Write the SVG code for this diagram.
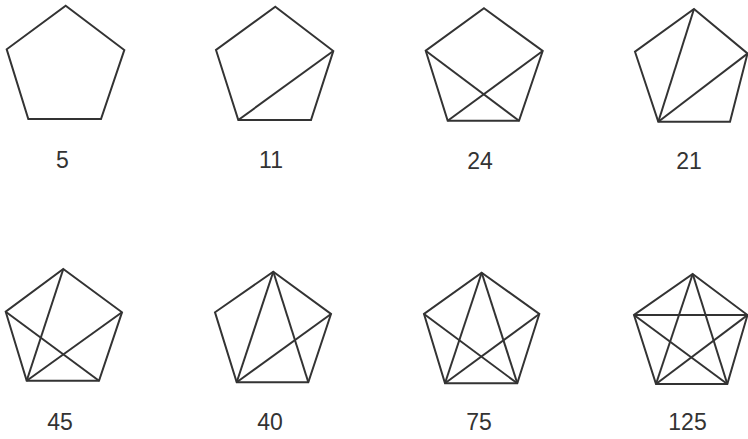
<svg xmlns="http://www.w3.org/2000/svg" width="748" height="439" viewBox="0 0 748 439">
<style>
.p{fill:none;stroke:#333;stroke-width:2;stroke-linejoin:miter}
.d{stroke:#333;stroke-width:2}
text{font-family:"Liberation Sans",Arial,sans-serif;font-size:23px;fill:#333;text-anchor:middle}
</style>
<rect width="748" height="439" fill="#fff"/>
<g id="g5">
<polygon class="p" points="65.7,5.7 124.3,50 101,119 28.3,119 6.7,49.3"/>
<text x="62.5" y="168">5</text>
</g>
<g id="g11">
<polygon class="p" points="275.3,6.7 333.3,51 311,120 238.3,120 216,50"/>
<g class="edges"><line class="d" x1="333.3" y1="51" x2="238.3" y2="120"/></g>
<text x="271" y="168">11</text>
</g>
<g id="g24">
<polygon class="p" points="484,8.3 542.7,51 519,120.7 447.7,120.7 425.7,50.7"/>
<g class="edges"><line class="d" x1="425.7" y1="50.7" x2="519" y2="120.7"/><line class="d" x1="542.7" y1="51" x2="447.7" y2="120.7"/></g>
<text x="480" y="169">24</text>
</g>
<g id="g21">
<polygon class="p" points="694,9 747.5,53.5 730,121.7 658.3,121.7 635,51.7"/>
<g class="edges"><line class="d" x1="658.3" y1="121.7" x2="694" y2="9"/><line class="d" x1="658.3" y1="121.7" x2="747.5" y2="53.5"/></g>
<text x="689" y="169">21</text>
</g>
<g id="g45">
<polygon class="p" points="63.3,269 122,312.3 99,380.7 26.7,380.7 5.7,311.7"/>
<g class="edges"><line class="d" x1="26.7" y1="380.7" x2="63.3" y2="269"/><line class="d" x1="5.7" y1="311.7" x2="99" y2="380.7"/><line class="d" x1="122" y1="312.3" x2="26.7" y2="380.7"/></g>
<text x="60" y="430">45</text>
</g>
<g id="g40">
<polygon class="p" points="273.3,271.7 331,314 308.3,382.3 236.7,382.3 215,312.3"/>
<g class="edges"><line class="d" x1="273.3" y1="271.7" x2="236.7" y2="382.3"/><line class="d" x1="273.3" y1="271.7" x2="308.3" y2="382.3"/><line class="d" x1="331" y1="314" x2="236.7" y2="382.3"/></g>
<text x="270" y="430">40</text>
</g>
<g id="g75">
<polygon class="p" points="481.7,272.7 539.3,314 517.3,383.3 445,383.3 424,314"/>
<g class="edges"><line class="d" x1="481.7" y1="272.7" x2="445" y2="383.3"/><line class="d" x1="481.7" y1="272.7" x2="517.3" y2="383.3"/><line class="d" x1="424" y1="314" x2="517.3" y2="383.3"/><line class="d" x1="539.3" y1="314" x2="445" y2="383.3"/></g>
<text x="479" y="430">75</text>
</g>
<g id="g125">
<polygon class="p" points="692.7,274 747.5,315 727.3,384 656,384 634,315"/>
<g class="edges"><line class="d" x1="692.7" y1="274" x2="656" y2="384"/><line class="d" x1="692.7" y1="274" x2="727.3" y2="384"/><line class="d" x1="634" y1="315" x2="727.3" y2="384"/><line class="d" x1="747.5" y1="315" x2="656" y2="384"/><line class="d" x1="634" y1="315" x2="747.5" y2="315"/></g>
<text x="687.5" y="430">125</text>
</g>
</svg>
